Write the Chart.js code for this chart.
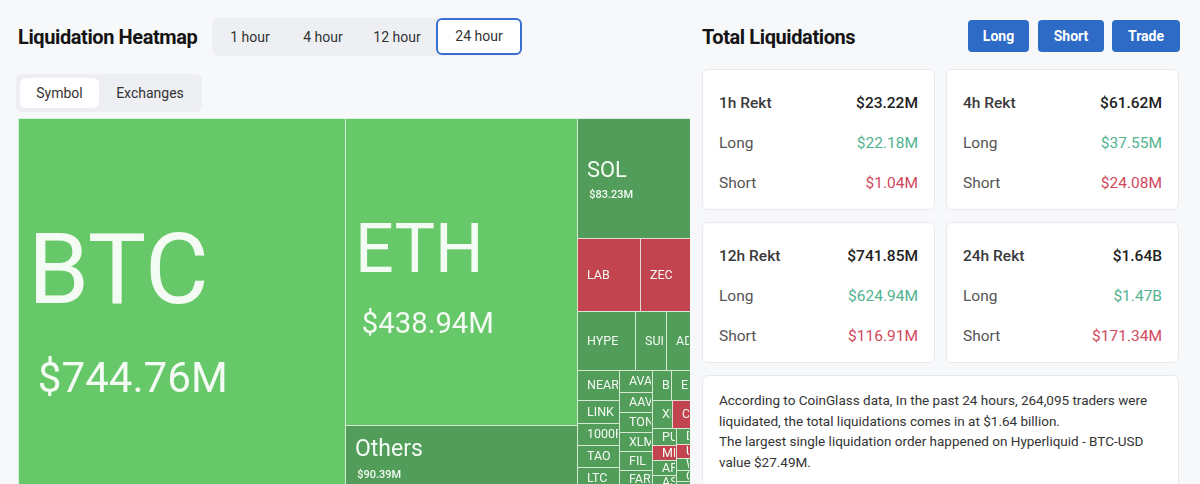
<!DOCTYPE html>
<html>
<head>
  <title>Liquidation Heatmap</title>
  <meta charset="UTF-8">
  <script src="https://cdn.jsdelivr.net/npm/chart.js"></script>
  <style>
    body {
      margin: 0;
      width: 1200px;
      height: 484px;
      overflow: hidden;
      position: relative;
      background: #f7f8fa;
      font-family: Roboto, "Noto Sans", Arial, sans-serif;
      color: #1d1d1f;
    }
    .title { position: absolute; top: 23px; font-size: 20px; font-weight: 700; letter-spacing: -0.4px; line-height: 28px; color: #141414; }
    .group { position: absolute; background: #edeff3; border-radius: 6px; }
    .tab { position: absolute; text-align: center; font-size: 14px; color: #333; }
    .tab.on { background: #fff; border-radius: 6px; }
    .btn {
      position: absolute; top: 20px; height: 32px; line-height: 32px;
      background: #2e6bc7; color: #fff; border-radius: 4px;
      font-size: 14px; font-weight: 700; text-align: center;
    }
    .card { position: absolute; background: #fff; border: 1px solid #e7e9ed; border-radius: 6px; box-sizing: border-box; }
    .row { position: absolute; left: 16px; right: 16px; height: 20px; line-height: 20px; font-size: 15.5px; color: #555; }
    .row span { float: right; }
    .row.head { color: #3a3a3a; font-weight: 500; }
    .row.head span { font-weight: 500; color: #222; }
    .up { color: #52b38f; }
    .down { color: #d2485c; }
    .note { position: absolute; left: 16px; top: 14px; font-size: 13.5px; line-height: 20.6px; color: #333; white-space: nowrap; }
    #box { position: absolute; left: 18px; top: 118px; width: 672px; height: 370px; }
  </style>
</head>
<body>

  <div class="title" style="left:18px">Liquidation Heatmap</div>
  <div class="group" style="left:212px;top:18px;width:310px;height:38px"></div>
  <div class="tab" style="left:212px;top:18px;width:76px;line-height:38px">1 hour</div>
  <div class="tab" style="left:288px;top:18px;width:70px;line-height:38px">4 hour</div>
  <div class="tab" style="left:358px;top:18px;width:78px;line-height:38px">12 hour</div>
  <div class="tab on" style="left:436px;top:18px;width:82px;height:33px;line-height:33px;border:2px solid #3b6fcf">24 hour</div>

  <div class="group" style="left:16px;top:74px;width:186px;height:38px"></div>
  <div class="tab on" style="left:20px;top:78px;width:79px;height:30px;line-height:30px">Symbol</div>
  <div class="tab" style="left:99px;top:78px;width:102px;line-height:30px">Exchanges</div>

  <div id="box"><canvas id="heatmap" width="672" height="370"></canvas></div>

  <div class="title" style="left:702px">Total Liquidations</div>
  <div class="btn" style="left:968px;width:61px">Long</div>
  <div class="btn" style="left:1038px;width:66px">Short</div>
  <div class="btn" style="left:1112px;width:68px">Trade</div>

  <div id="cards"></div>

  <div class="card" style="left:702px;top:375px;width:477px;height:140px">
    <div class="note">According to CoinGlass data, In the past 24 hours, 264,095 traders were<br>liquidated, the total liquidations comes in at $1.64 billion.<br>The largest single liquidation order happened on Hyperliquid - BTC-USD<br>value $27.49M.</div>
  </div>

  <script>
    // heatmap cells (24 hour, $M)
    const symbols = ['BTC', 'ETH', 'Others', 'SOL', 'LAB', 'ZEC', 'HYPE', 'SUI', 'ADA', 'NEAR', 'LINK', '1000PEPE',
      'TAO', 'LTC', 'AVAX', 'AAVE', 'TON', 'XLM', 'FIL', 'FARTCOIN', 'BNB', 'ENA', 'XRP', 'COAI', 'PUMP', 'MR',
      'APT', 'ASTER', 'DOGE', 'UNI', 'WIF', 'ORDI', 'ARB'];
    const amounts = [744.76, 438.94, 90.39, 83.23, 28.2, 22.3, 21.1, 11.1, 8.9, 7.4, 5.9, 5.7,
      5.6, 5.2, 4.4, 4.2, 4.1, 4.0, 3.9, 3.8, 3.5, 3.4, 3.4, 3.0, 2.6, 2.2,
      2.1, 2.0, 1.3, 1.2, 1.0, 0.9, 0.6];
    const tones = ['strong', 'strong', 'long', 'long', 'short', 'short', 'long', 'long', 'long', 'long', 'long', 'long',
      'long', 'long', 'long', 'long', 'long', 'long', 'long', 'long', 'long', 'long', 'long', 'short', 'long', 'short',
      'long', 'long', 'long', 'short', 'long', 'long', 'long'];

    // summary cards
    const periods = ['1h', '4h', '12h', '24h'];
    const totals = ['$23.22M', '$61.62M', '$741.85M', '$1.64B'];
    const longs = ['$22.18M', '$37.55M', '$624.94M', '$1.47B'];
    const shorts = ['$1.04M', '$24.08M', '$116.91M', '$171.34M'];

    const toneColor = { strong: '#67c86a', long: '#519d59', short: '#c1444f' };
    const SQUARE_RATIO = (1 + Math.sqrt(5)) / 2;

    periods.forEach((p, i) => {
      const card = document.createElement('div');
      card.className = 'card';
      card.style.left = (i % 2 ? 946 : 702) + 'px';
      card.style.top = (i < 2 ? 69 : 222) + 'px';
      card.style.width = '233px';
      card.style.height = '141px';
      card.innerHTML =
        `<div class="row head" style="top:23px">${p} Rekt<span>${totals[i]}</span></div>` +
        `<div class="row" style="top:63px">Long<span class="up">${longs[i]}</span></div>` +
        `<div class="row" style="top:103px">Short<span class="down">${shorts[i]}</span></div>`;
      document.getElementById('cards').appendChild(card);
    });

    // squarified layout, trying a row across and a column down at each step
    function worst(values, fixed) {
      const sum = values.reduce((a, b) => a + b, 0);
      const f = fixed * fixed * SQUARE_RATIO;
      return Math.max(f * Math.max(...values) / (sum * sum), (sum * sum) / (f * Math.min(...values)));
    }

    function greedy(items, start, fixed) {
      let best = Infinity, end = start;
      for (let i = start; i < items.length; i++) {
        const score = worst(items.slice(start, i + 1).map(d => d.value), fixed);
        if (score <= best) { best = score; end = i + 1; } else break;
      }
      return { end, best };
    }

    function layout(items, W, H) {
      const rect = { x: 0, y: 0, w: W, h: H };
      const out = [];
      let i = 0;
      while (i < items.length) {
        const across = greedy(items, i, rect.w);
        const down = greedy(items, i, rect.h);
        const column = down.best <= across.best;
        const end = column ? down.end : across.end;
        const group = items.slice(i, end);
        const sum = group.reduce((a, d) => a + d.value, 0);
        if (column) {
          const cw = sum / rect.h;
          let y = rect.y;
          group.forEach(d => {
            const h = d.value / cw;
            out.push({ ...d, x0: rect.x, x1: rect.x + cw, y0: y, y1: y + h });
            y += h;
          });
          rect.x += cw; rect.w -= cw;
        } else {
          const rh = sum / rect.w;
          let x = rect.x;
          group.forEach(d => {
            const w = d.value / rh;
            out.push({ ...d, x0: x, x1: x + w, y0: rect.y, y1: rect.y + rh });
            x += w;
          });
          rect.y += rh; rect.h -= rh;
        }
        i = end;
      }
      return out;
    }

    const items = symbols.map((s, i) => ({ name: s, value: amounts[i], tone: tones[i] }))
      .sort((a, b) => b.value - a.value);
    const total = amounts.reduce((a, b) => a + b, 0);
    const aspect = 672 / 370;
    const H = Math.sqrt(total / aspect);
    const W = total / H;
    const cells = layout(items, W, H);

    const treemapPlugin = {
      id: 'treemapCells',
      afterDatasetsDraw(chart) {
        const { ctx, scales: { x, y } } = chart;
        cells.forEach(c => {
          const l = Math.round(x.getPixelForValue(c.x0)), r = Math.round(x.getPixelForValue(c.x1));
          const t = Math.round(y.getPixelForValue(c.y0)), b = Math.round(y.getPixelForValue(c.y1));
          const w = r - l, h = b - t;
          ctx.save();
          ctx.fillStyle = toneColor[c.tone];
          ctx.fillRect(l, t, w, h);
          ctx.strokeStyle = 'rgba(235,248,235,0.85)';
          ctx.lineWidth = 1;
          ctx.strokeRect(l + 0.5, t + 0.5, w, h);

          ctx.beginPath();
          ctx.rect(l + 1, t + 1, w - 2, h - 2);
          ctx.clip();
          ctx.fillStyle = '#f4fbf4';
          const ns = 21 * Math.pow(Math.sqrt(w * h) / 113, 1.37);
          if (ns >= 16) {
            const vs = Math.max(11, ns * 0.43);
            const block = 0.71 * ns + 0.6 * ns + 0.71 * vs;
            const top = t + h / 2 - block / 2 + 0.1 * ns;
            ctx.textBaseline = 'alphabetic';
            ctx.font = `400 ${ns}px Roboto, sans-serif`;
            ctx.fillText(c.name, l + 10, top + 0.71 * ns);
            ctx.font = `${vs > 20 ? 400 : 500} ${vs}px Roboto, sans-serif`;
            ctx.fillText('$' + c.value.toFixed(2) + 'M', l + 10 + 0.1 * ns, top + 1.31 * ns + 0.71 * vs);
          } else if (h >= 10) {
            ctx.textBaseline = 'middle';
            ctx.font = '400 12.5px Roboto, sans-serif';
            ctx.fillText(c.name, l + 10, t + h / 2 + 1);
          }
          ctx.restore();
        });
      }
    };

    new Chart(document.getElementById('heatmap'), {
      type: 'scatter',
      data: {
        datasets: [{
          label: 'Liquidations',
          data: cells.map(c => ({ x: (c.x0 + c.x1) / 2, y: (c.y0 + c.y1) / 2 })),
          pointRadius: 0,
          pointHoverRadius: 0
        }]
      },
      options: {
        responsive: false,
        animation: false,
        layout: { padding: 0 },
        plugins: { legend: { display: false }, tooltip: { enabled: false } },
        scales: {
          x: { type: 'linear', min: 0, max: W, display: false },
          y: { type: 'linear', min: 0, max: H, reverse: true, display: false }
        }
      },
      plugins: [treemapPlugin]
    });
  </script>

</body>
</html>
